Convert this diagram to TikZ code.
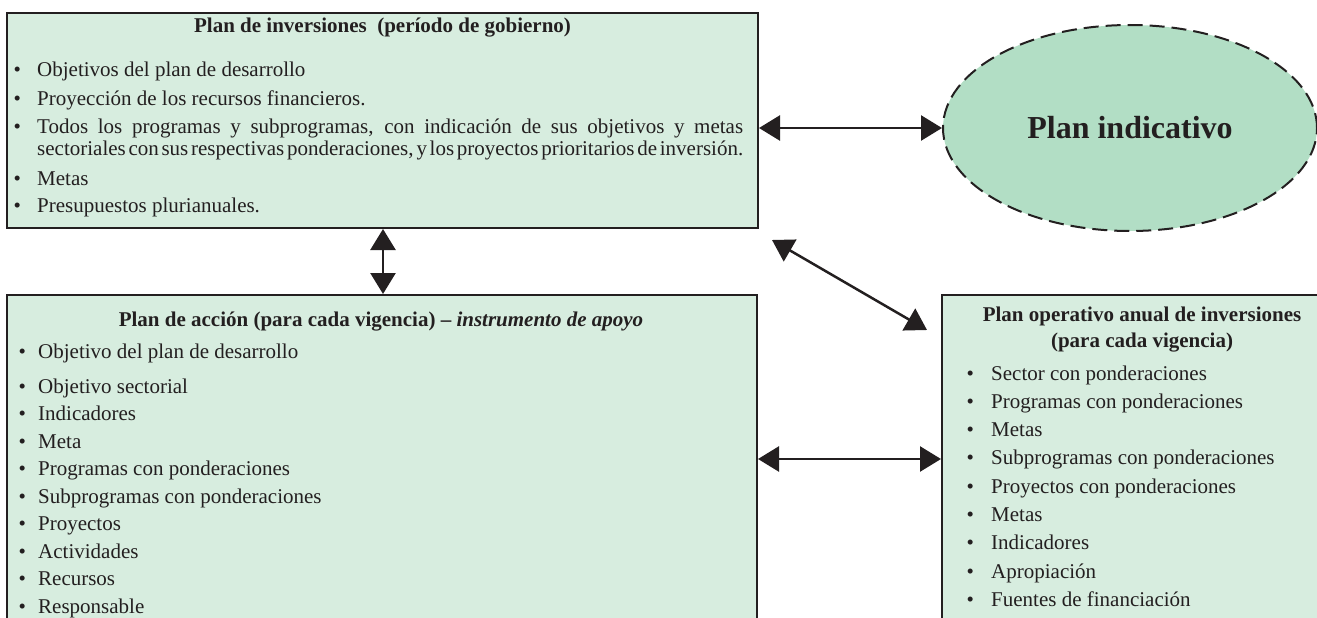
\documentclass[tikz,border=0pt]{standalone}
\usepackage{fontspec}
\setmainfont{Liberation Serif}
\usetikzlibrary{arrows.meta,shapes.geometric}
\definecolor{boxfill}{HTML}{D7EDDF}
\definecolor{ellfill}{HTML}{B2DEC5}
\definecolor{ink}{HTML}{231F20}
\newcommand\itembul[1]{\makebox[#1][l]{•}}
\begin{document}
\begin{tikzpicture}[x=1pt,y=-1pt,
  planbox/.style={draw=ink,line width=2pt,fill=boxfill,rectangle,inner sep=0pt},
  txt/.style={anchor=base west,inner sep=0pt,text=ink,font=\fontsize{21}{25}\selectfont},
  ttl/.style={anchor=base,inner sep=0pt,text=ink,font=\fontsize{21}{25}\selectfont\bfseries},
  arr/.style={draw=ink,line width=2.5pt,{Triangle[length=21pt,width=25pt]}-{Triangle[length=21pt,width=25pt]}},
]
\useasboundingbox (0,0) rectangle (1317,618);
\clip (0,0) rectangle (1317,618);

% boxes
\node[planbox,minimum width=751pt,minimum height=215pt] (tb) at (382.5,120.5) {};
\node[planbox,minimum width=750pt,minimum height=355pt] (lb) at (382,472.5) {};
\node[planbox,minimum width=403pt,minimum height=355pt] (rb) at (1143.5,472.5) {};
\node[ellipse,draw=ink,line width=2pt,dash pattern=on 15pt off 7pt,fill=ellfill,
      minimum width=374pt,minimum height=206pt,inner sep=0pt,text=ink,
      font=\fontsize{32}{37}\selectfont\bfseries] (ell) at (1130,128) {Plan indicativo};

% top box text
\node[ttl] (tbt) at (382.5,33) {Plan de inversiones\ \ (período de gobierno)};
\node[txt] (tb1) at (13.3,77) {\itembul{23.7pt}Objetivos del plan de desarrollo};
\node[txt] (tb2) at (13.3,105) {\itembul{23.7pt}Proyección de los recursos financieros.};
\node[txt] (tb3) at (13.3,133) {\itembul{23.7pt}\hbox to 706pt{\spaceskip=.25em plus 1fil\relax Todos los programas y subprogramas, con indicación de sus objetivos y metas}};
\node[txt] (tb4) at (37,155) {\hbox to 706pt{\spaceskip=.1em plus 1fil\relax sectoriales con sus respectivas ponderaciones, y los proyectos prioritarios de inversión.}};
\node[txt] (tb5) at (13.3,185) {\itembul{23.7pt}Metas};
\node[txt] (tb6) at (13.3,212) {\itembul{23.7pt}Presupuestos plurianuales.};

% lower left box text
\node[ttl] (lbt) at (381,326) {Plan de acción (para cada vigencia) – \textit{instrumento de apoyo}};
\node[txt] (lb1) at (18.3,358) {\itembul{19.7pt}Objetivo del plan de desarrollo};
\node[txt] (lb2) at (18.3,393) {\itembul{19.7pt}Objetivo sectorial};
\node[txt] (lb3) at (18.3,420.5) {\itembul{19.7pt}Indicadores};
\node[txt] (lb4) at (18.3,448) {\itembul{19.7pt}Meta};
\node[txt] (lb5) at (18.3,475.5) {\itembul{19.7pt}Programas con ponderaciones};
\node[txt] (lb6) at (18.3,503) {\itembul{19.7pt}Subprogramas con ponderaciones};
\node[txt] (lb7) at (18.3,530.5) {\itembul{19.7pt}Proyectos};
\node[txt] (lb8) at (18.3,558) {\itembul{19.7pt}Actividades};
\node[txt] (lb9) at (18.3,585.5) {\itembul{19.7pt}Recursos};
\node[txt] (lb10) at (18.3,613) {\itembul{19.7pt}Responsable};

% right box text
\node[ttl] (rbt1) at (1142,321) {Plan operativo anual de inversiones};
\node[ttl] (rbt2) at (1142,347) {(para cada vigencia)};
\node[txt] (rb1) at (966.3,380) {\itembul{24.7pt}Sector con ponderaciones};
\node[txt] (rb2) at (966.3,408.3) {\itembul{24.7pt}Programas con ponderaciones};
\node[txt] (rb3) at (966.3,436.6) {\itembul{24.7pt}Metas};
\node[txt] (rb4) at (966.3,464.9) {\itembul{24.7pt}Subprogramas con ponderaciones};
\node[txt] (rb5) at (966.3,493.2) {\itembul{24.7pt}Proyectos con ponderaciones};
\node[txt] (rb6) at (966.3,521.5) {\itembul{24.7pt}Metas};
\node[txt] (rb7) at (966.3,549.8) {\itembul{24.7pt}Indicadores};
\node[txt] (rb8) at (966.3,578.1) {\itembul{24.7pt}Apropiación};
\node[txt] (rb9) at (966.3,606.4) {\itembul{24.7pt}Fuentes de financiación};

% connectors
\coordinate (vx) at (383,0);
\coordinate (mid) at (850,459);
\coordinate (d1) at (772,240);
\coordinate (d2) at (927,330);
\draw[arr] (tb.east |- ell.west) -- (ell.west);
\draw[arr] (tb.south -| vx) -- (lb.north -| vx);
\draw[arr] (lb.east |- mid) -- (rb.west |- mid);
\draw[arr] (d1) -- (d2);
\end{tikzpicture}
\end{document}
